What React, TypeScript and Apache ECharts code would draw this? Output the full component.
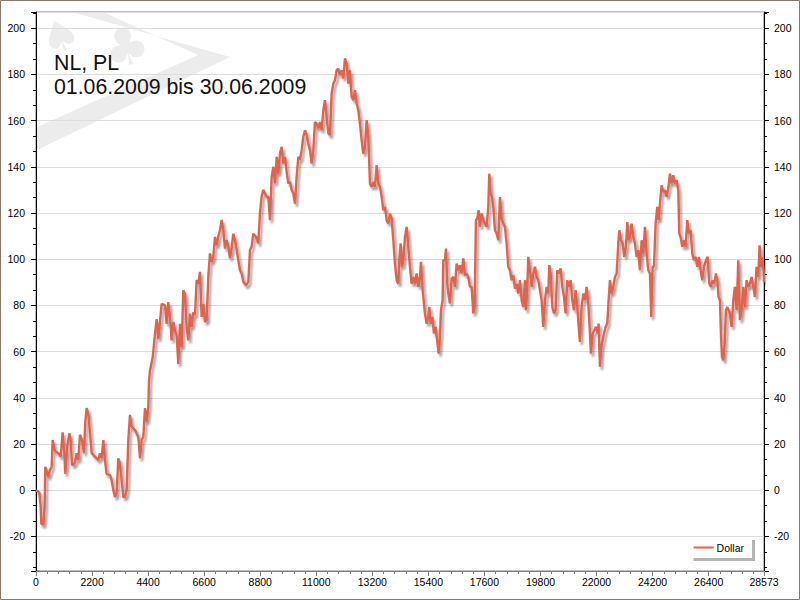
import React, { useEffect, useRef } from "react";
import * as echarts from "echarts";

// hand number (x) and cumulative winnings in dollars (y)
const hands = [
  0, 26, 131, 183, 209, 288, 340, 366, 392, 484, 549, 615, 654, 746, 876, 968, 1046, 1112, 1151, 1230,
  1308, 1360, 1413, 1465, 1530, 1596, 1661, 1727, 1805, 1884, 1936, 1988, 2054, 2119, 2184, 2315, 2446, 2511, 2577, 2642,
  2708, 2773, 2904, 2969, 3035, 3100, 3165, 3231, 3296, 3362, 3427, 3492, 3558, 3623, 3689, 3754, 3885, 4016, 4081, 4146,
  4212, 4277, 4343, 4408, 4434,
  4474, 4579, 4670, 4736, 4801, 4932, 5063, 5128, 5193, 5259, 5324, 5390, 5455, 5520, 5586, 5651, 5717, 5782, 5847, 5913,
  5978, 6044, 6109, 6174, 6240, 6305, 6371, 6436, 6501, 6567, 6632, 6698, 6763, 6828, 6894, 6959, 7025, 7090, 7155, 7221,
  7286, 7351, 7417, 7482, 7548, 7613, 7678, 7744, 7809, 7875, 7940, 8005, 8071, 8136, 8241, 8333, 8398, 8463, 8529, 8634,
  8725, 8790, 8856, 8921, 9052, 9117,
  9184, 9249, 9315, 9380, 9446, 9511, 9576, 9642, 9707, 9773, 9838, 9903, 9969, 10034, 10100, 10165, 10230, 10296, 10361, 10427,
  10492, 10557, 10623, 10688, 10754, 10819, 10884, 10950, 11015, 11081, 11146, 11211, 11277, 11342, 11407, 11473, 11538, 11604, 11669, 11735,
  11800, 11865, 11931, 11996, 12062, 12127, 12192, 12258, 12323, 12388, 12454, 12519, 12585, 12650, 12715, 12781, 12846, 12912, 12977, 13042,
  13108, 13173, 13239, 13304, 13370, 13435, 13500, 13566, 13631, 13697, 13762, 13827,
  13893, 13958, 14024, 14089, 14155, 14220, 14259, 14312, 14364, 14416, 14482, 14547, 14612, 14678, 14743, 14809, 14874, 14939, 15005, 15070,
  15109, 15175, 15266, 15332, 15397, 15436, 15489, 15554, 15620, 15685, 15750, 15803, 15855, 15894, 15960, 15986, 16051, 16090, 16143, 16182,
  16247, 16313, 16378, 16444, 16509, 16574, 16640, 16705, 16771, 16836, 16901, 16967, 17032, 17098, 17163, 17215, 17268, 17320, 17372, 17425,
  17490, 17556, 17621, 17686, 17752, 17791, 17843, 17896, 17948, 18013, 18079, 18144, 18209, 18275, 18340, 18406, 18471, 18536,
  18603, 18668, 18734, 18799, 18865, 18930, 18995, 19061, 19126, 19192, 19231, 19283, 19322, 19388, 19453, 19519, 19584, 19649, 19715, 19780,
  19846, 19911, 19976, 20042, 20107, 20146, 20199, 20264, 20330, 20395, 20460, 20526, 20591, 20657, 20722, 20787, 20853, 20918, 20984, 21049,
  21114, 21180, 21245, 21311, 21350, 21415, 21481, 21546, 21611, 21677, 21742, 21781, 21847, 21912, 21977, 22043, 22082, 22135, 22187, 22239,
  22291, 22357, 22422, 22475, 22527, 22592, 22658, 22723, 22789, 22854, 22893, 22958, 23024, 23089, 23155, 23207, 23259,
  23312, 23377, 23443, 23508, 23574, 23639, 23704, 23770, 23835, 23901, 23966, 24031, 24097, 24149, 24201, 24254, 24319, 24385, 24437, 24489,
  24555, 24620, 24685, 24751, 24816, 24882, 24947, 25012, 25078, 25143, 25209, 25248, 25300, 25366, 25431, 25496, 25562, 25627, 25693, 25758,
  25823, 25889, 25954, 26020, 26085, 26150, 26216, 26294, 26360, 26425, 26490, 26556, 26621, 26686, 26739, 26791, 26844, 26883, 26922, 26975,
  27027, 27080, 27131, 27184, 27236, 27302, 27367, 27432, 27498, 27563, 27629, 27694, 27760, 27825, 27890, 27956, 28021, 28086, 28152, 28217,
  28283, 28348, 28400, 28453, 28505, 28557, 28573,
];

const dollars = [
  0, 0, -1, -7, -14.5, -15, -7, 10, 9.4, 5.8, 8.7, 10, 21.7, 17, 16, 14.5, 25, 16, 7, 19,
  24.6, 21.7, 11, 11, 12, 16, 13, 24, 21.7, 16, 29.7, 35.5, 33, 24.6, 16, 14.5, 13, 16, 13.8, 21.7,
  13, 7, 6.5, 4.3, 0, -3, -1.4, 13.8, 11.6, 4.3, -3, -3, 0, 21.7, 32.6, 27.5, 26, 23, 13.8, 21.7,
  23, 35.5, 29.7, 36, 47,
  51.7, 57.5, 67.7, 74, 65.5, 80.7, 80, 72, 81.4, 75, 64.8, 72.8, 69, 67, 54.6, 72, 62, 86.5, 85, 70.6,
  64.8, 76.4, 70.6, 77, 75.7, 91, 89.4, 94.5, 75, 80.7, 72.8, 73.5, 92.6, 102.5, 99, 101, 109.7, 106, 109.7, 112.6,
  117, 112.6, 104.6, 108.3, 105.4, 100.4, 104.6, 111, 108.3, 104, 99.6, 95.2, 93.8, 90.2, 88.7, 90.2, 104, 105.4, 111, 109.7,
  106.8, 119.9, 127, 130, 127, 127,
  116.9, 135.6, 140, 132.8, 144.3, 137, 145.7, 148.6, 141.4, 144.3, 137.8, 132.8, 133.5, 129.9, 128.4, 124, 135.6, 144.3, 142.9, 147.2,
  153, 155.8, 153.7, 150, 147.2, 141.4, 147.2, 159.4, 158.7, 156.6, 159.4, 155.8, 164.5, 168.8, 161.6, 154.4, 153.7, 171.7, 176, 177.5,
  181.8, 182.5, 179.7, 181.8, 178.2, 186.9, 184.7, 176, 181.8, 170.3, 168.8, 173.2, 167.4, 164.5, 158.7, 151.5, 145.7, 148.6, 160.2, 153,
  132.8, 131.3, 133.5, 131.3, 140.7, 132.8, 131.3, 127, 121.2, 122.7, 116.9, 115.4,
  119.7, 117.6, 108.2, 98.1, 90.9, 89.4, 99.5, 106.8, 96.7, 99.5, 109.6, 114, 105.3, 96.7, 89.4, 92.3, 89.4, 93.8, 88, 92.3,
  98.8, 86.6, 76.5, 72.1, 75, 79.3, 72.1, 75, 67.8, 70.7, 64.2, 59.1, 66.3, 77.9, 82.2, 99.5, 99.5, 104.6, 89.4, 85.1,
  80.8, 91.6, 92.3, 88, 98.1, 95.2, 97.4, 93.8, 100.3, 93, 93.8, 92.3, 88, 88, 76.5, 79.3, 116.9, 117.6, 121.2, 114,
  119.7, 116.9, 115.4, 114, 122.6, 137, 128.4, 126.9, 122.6, 112.5, 111.1, 108.2, 126.9, 117.6, 115.4, 114, 106.8, 96.7,
  95.2, 90.9, 93, 87.3, 89.4, 85.1, 90.9, 82.2, 79.3, 90.9, 77.9, 88, 101, 95.2, 88, 93.8, 96.7, 92.3, 90.9, 86.6,
  82.2, 70.7, 82.2, 88, 85.1, 97.4, 93.8, 79.3, 76.5, 77.9, 95.2, 93.8, 96, 88, 83.7, 76.5, 90.9, 88, 90.9, 82.2,
  77.9, 86.6, 79.3, 69.2, 64.2, 79.3, 85.1, 82.2, 88, 80.8, 67.8, 59.1, 67.8, 69.2, 70.7, 67.8, 72.1, 53.4, 62, 64.9,
  67.8, 70.7, 72.1, 82.2, 90.9, 85.1, 88, 92.3, 93.8, 106.8, 112.5, 108.2, 106.8, 101, 105.3, 116.1, 108.2,
  109.6, 115.4, 109.6, 106.8, 101, 103.9, 95.2, 108.2, 102.4, 114, 102.4, 95.2, 93.8, 75, 96.7, 96.7, 115.4, 122.6, 116.9, 124,
  132, 129.1, 129.8, 127, 130.6, 137, 132.7, 136.3, 132.7, 134.2, 129.8, 111.1, 109.6, 105.3, 108.2, 105.3, 116.9, 111.1, 112.5, 102.4,
  99.5, 101, 96.7, 101, 95.2, 90.9, 96.7, 99.5, 101, 89.4, 88, 90.9, 89.4, 93.8, 90.9, 83.7, 82.2, 67.8, 57.7, 56.2,
  63.5, 77.9, 79.3, 77.9, 76.5, 70.7, 82.2, 88, 77.9, 99.5, 73.6, 77.9, 88, 79.3, 90.9, 88, 89.4, 92.3, 88, 83.7,
  96.7, 92.3, 106, 96.7, 101, 95.2, 90,
];

const seriesName = "Dollar";
const titleLines = ["NL, PL", "01.06.2009 bis 30.06.2009"];
const xMin = 0;
const xMax = 28573;
const xInterval = 2200;
const yMin = -35;
const yMax = 207;
const yStep = 20;

export default function App() {
  const ref = useRef<HTMLDivElement>(null);

  useEffect(() => {
    if (!ref.current) return;
    const chart = echarts.init(ref.current, null, { renderer: "svg" });
    const data = hands.map((h, i) => [h, dollars[i]]);
    const font = "Liberation Sans";
    const yLabelFmt = (v: number) => (Math.abs(v % yStep) < 1e-9 ? String(v) : "");

    const yAxisBase = (pos: "left" | "right", split: boolean) => ({
      type: "value",
      position: pos,
      min: yMin,
      max: yMax,
      splitNumber: 12,
      minInterval: yStep,
      maxInterval: yStep,
      axisLine: { show: true, onZero: false, lineStyle: { color: "#000", width: 1 } },
      axisTick: { show: true, length: 5, lineStyle: { color: "#000" } },
      minorTick: { show: true, splitNumber: 3, length: 3, lineStyle: { color: "#000" } },
      axisLabel: {
        color: "#000",
        fontSize: 10.5,
        fontFamily: font,
        margin: pos === "left" ? 11 : 10,
        formatter: yLabelFmt,
      },
      splitLine: { show: split, lineStyle: { color: "#dcdcdc", width: 1 } },
      minorSplitLine: { show: false },
    });

    chart.setOption({
      animation: false,
      backgroundColor: "#ffffff",
      textStyle: { fontFamily: font },
      grid: {
        left: 36,
        right: 36,
        top: 12,
        bottom: 29,
        show: true,
        borderColor: "#7a7a7a",
        borderWidth: 1,
        backgroundColor: "transparent",
        containLabel: false,
      },
      legend: {
        data: [{ name: seriesName, icon: "path://M0,0 L20,0 L20,2 L0,2 Z" }],
        right: 48,
        top: 537,
        itemWidth: 20,
        itemHeight: 2,
        padding: [5, 8, 5, 3],
        backgroundColor: "#ffffff",
        borderWidth: 0,
        shadowColor: "#b4b4b4",
        shadowBlur: 0,
        shadowOffsetX: 3,
        shadowOffsetY: 3,
        textStyle: { color: "#000", fontSize: 10.5, fontFamily: font, padding: [0, 0, 0, -2] },
      },
      xAxis: {
        type: "value",
        position: "bottom",
        min: xMin,
        max: xMax,
        interval: xInterval,
        axisLine: { show: true, onZero: false, lineStyle: { color: "#808080" } },
        axisTick: { show: true, length: 5, lineStyle: { color: "#808080" } },
        minorTick: { show: true, splitNumber: 5, length: 3, lineStyle: { color: "#808080" } },
        axisLabel: {
          color: "#000",
          fontSize: 10.5,
          fontFamily: font,
          margin: 5,
          formatter: (v: number) => String(v),
        },
        splitLine: { show: false },
        minorSplitLine: { show: false },
      },
      yAxis: [yAxisBase("left", true), yAxisBase("right", false)],
      series: [
        {
          name: seriesName,
          type: "line",
          xAxisIndex: 0,
          yAxisIndex: 0,
          data,
          symbol: "none",
          showSymbol: false,
          color: "#e0644e",
          lineStyle: {
            color: "#e0644e",
            width: 2.4,
            shadowColor: "rgba(0,0,0,0.38)",
            shadowBlur: 2,
            shadowOffsetX: 2,
            shadowOffsetY: 3,
          },
          z: 5,
        },
      ],
      graphic: [
        {
          type: "polygon",
          z: -1,
          silent: true,
          shape: {
            points: [
              [72, 12],
              [230, 57],
              [37, 150],
              [37, 127],
              [198, 55],
              [103, 12],
            ],
          },
          style: { fill: "#ececec" },
        },
        {
          type: "text",
          z: -1,
          silent: true,
          x: 126,
          y: 47,
          rotation: 0.3,
          style: {
            text: "\u2663",
            fontSize: 52,
            fontFamily: "DejaVu Sans",
            fill: "#ececec",
            align: "center",
            verticalAlign: "middle",
          },
        },
        {
          type: "text",
          z: -1,
          silent: true,
          x: 60,
          y: 36,
          rotation: 0.35,
          style: {
            text: "\u2660",
            fontSize: 44,
            fontFamily: "DejaVu Sans",
            fill: "#ececec",
            align: "center",
            verticalAlign: "middle",
          },
        },
        {
          type: "text",
          z: 10,
          x: 54,
          y: 62.5,
          style: {
            text: titleLines[0],
            fontSize: 21.3,
            fontFamily: font,
            fill: "#111",
            verticalAlign: "middle",
          },
        },
        {
          type: "text",
          z: 10,
          x: 54,
          y: 86.5,
          style: {
            text: titleLines[1],
            fontSize: 21.3,
            fontFamily: font,
            fill: "#111",
            verticalAlign: "middle",
          },
        },
        {
          type: "rect",
          z: 100,
          silent: true,
          shape: { x: 0.5, y: 0.5, width: 799, height: 599 },
          style: { fill: "none", stroke: "#8b7866", lineWidth: 1 },
        },
      ],
    });

    return () => chart.dispose();
  }, []);

  return (
    <div
      ref={ref}
      style={{ position: "fixed", left: 0, top: 0, width: 800, height: 600 }}
    />
  );
}
